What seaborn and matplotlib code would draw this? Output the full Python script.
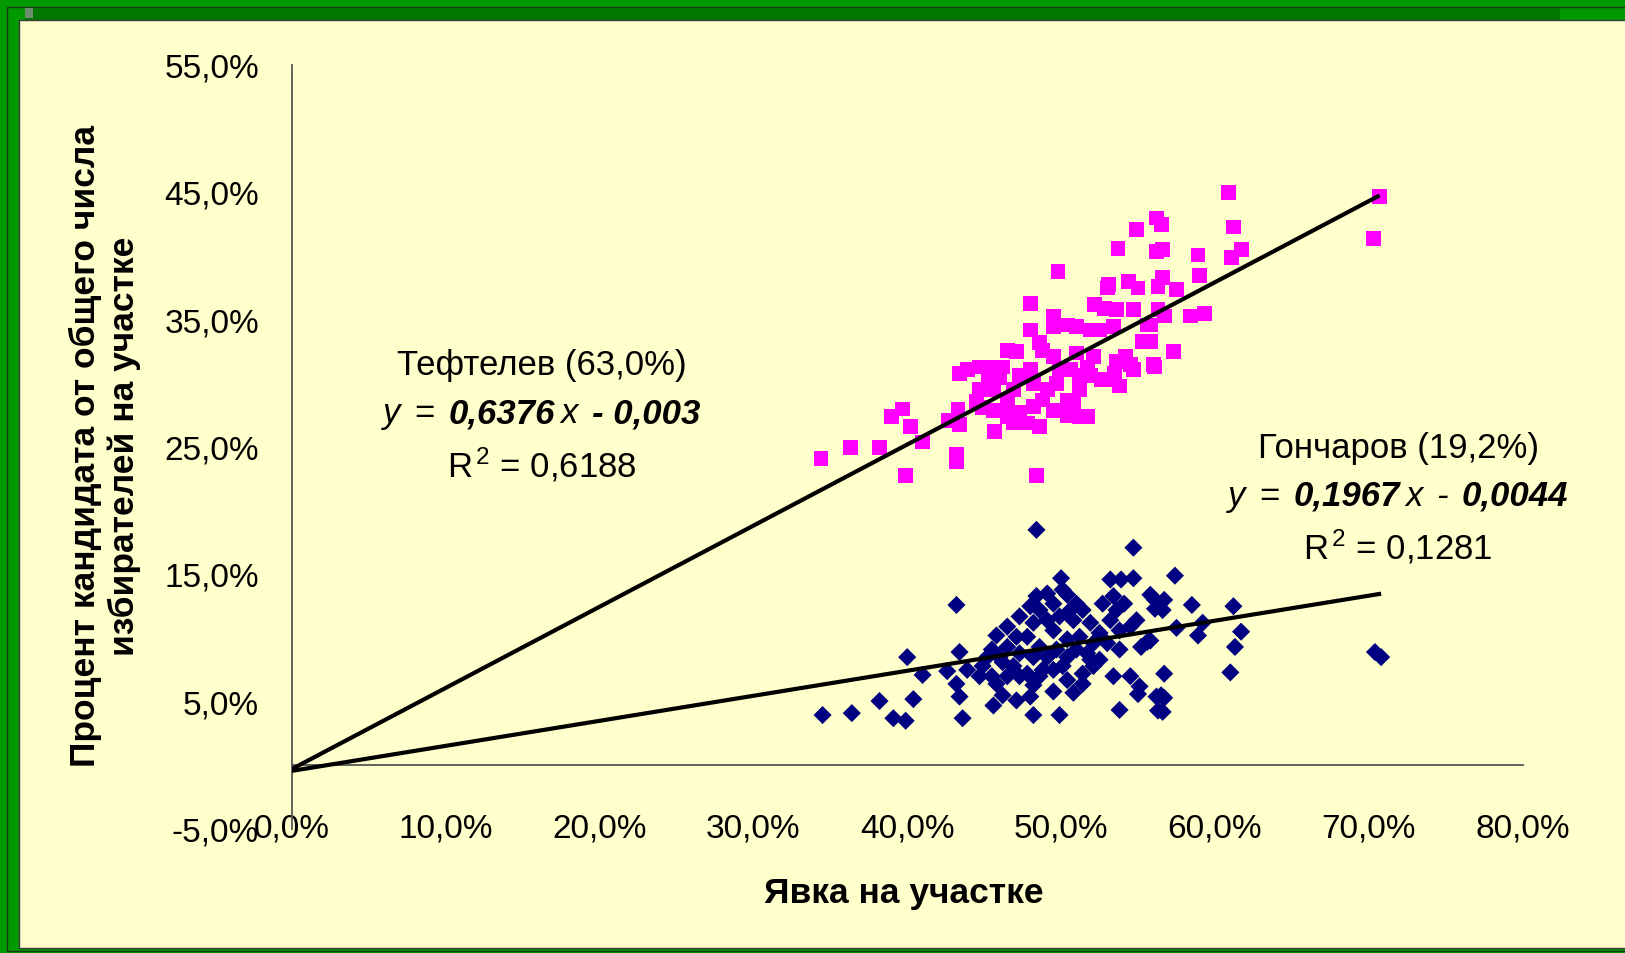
import numpy as np
import pandas as pd
import matplotlib
matplotlib.use("Agg")
import matplotlib.pyplot as plt
import seaborn as sns
from matplotlib.patches import Rectangle
from matplotlib.ticker import FixedLocator, FuncFormatter
from matplotlib.offsetbox import TextArea, HPacker, VPacker, AnnotationBbox

# ---------------- data (percent) ----------------
teftelev_turnout = [34.4, 36.3, 38.2, 39.0, 39.7, 40.2, 41.0, 39.9, 43.2, 43.2,
                    42.7, 43.3, 43.4, 43.4, 43.9, 44.7, 45.4, 46.2, 44.7, 45.6,
                    46.5, 47.1, 48.0, 48.0, 48.6, 49.5, 49.8, 49.5, 50.4, 51.0,
                    51.9, 52.5, 53.4, 52.2, 53.1, 53.7, 54.4, 54.9, 55.0, 54.7,
                    56.2, 56.2, 56.3, 55.6, 55.3, 56.0, 54.5, 53.6, 54.2, 52.6,
                    53.8, 51.7, 50.4, 51.2, 51.7, 51.2, 50.6, 49.7, 49.1, 48.2,
                    48.0, 47.3, 46.9, 46.5, 45.6, 46.5, 47.3, 48.2, 48.8, 49.5,
                    48.6, 47.8, 46.9, 45.7, 48.4, 50.8, 50.4, 49.9, 49.5, 48.8,
                    51.0, 52.1, 51.9, 53.2, 53.5, 54.7, 53.0, 52.8, 53.6, 51.2,
                    50.1,
                    60.9, 56.5, 61.2, 56.6, 58.9, 61.1, 61.7, 59.0, 56.6, 57.5,
                    56.3, 56.7, 58.4, 59.3, 55.8, 57.3, 56.1, 55.8, 70.7, 70.3,
                    44.5, 45.3, 46.0, 44.9]
teftelev_share = [24.1, 25.0, 25.0, 27.4, 28.0, 26.6, 25.4, 22.8, 23.9, 24.4,
                  27.1, 28.0, 26.8, 30.8, 31.1, 31.3, 31.3, 31.3, 29.5, 29.5,
                  32.6, 32.5, 36.3, 34.2, 33.2, 35.3, 38.8, 34.5, 34.6, 34.5,
                  34.2, 34.2, 34.5, 36.2, 37.8, 40.6, 38.0, 42.1, 37.5, 35.8,
                  43.0, 40.4, 37.6, 34.6, 33.3, 31.5, 31.5, 31.7, 32.1, 30.3,
                  29.8, 27.4, 27.5, 29.5, 31.3, 30.6, 31.1, 30.0, 29.5, 30.0,
                  31.1, 30.6, 29.5, 28.5, 27.9, 27.4, 27.7, 28.2, 28.7, 27.9,
                  26.6, 26.9, 26.9, 26.2, 22.8, 28.5, 28.7, 31.1, 32.1, 32.6,
                  32.4, 32.1, 30.6, 30.3, 30.8, 31.1, 37.5, 35.9, 35.8, 27.4,
                  27.9,
                  45.0, 42.5, 42.3, 40.5, 40.1, 39.9, 40.5, 38.5, 38.3, 37.4,
                  35.8, 35.3, 35.3, 35.5, 34.6, 32.5, 31.3, 33.3, 44.7, 41.4,
                  28.6, 30.2, 30.5, 28.1]

goncharov_turnout = [34.5, 36.4, 38.2, 39.1, 39.9, 40.4, 40.0, 41.0, 43.2, 42.6,
                     43.4, 43.2, 43.4, 43.6, 43.9, 44.7, 45.5, 45.6, 46.2, 45.5,
                     45.8, 46.5, 46.9, 47.3, 47.1, 47.3, 48.0, 48.4, 47.8, 48.2,
                     48.2, 48.0, 48.2, 48.4, 50.0, 49.5, 49.1, 49.5, 49.7, 48.8,
                     49.5, 49.9, 50.4, 51.0, 50.8, 50.4, 50.1, 50.8, 51.4, 51.7,
                     51.4, 52.1, 52.7, 53.2, 53.9, 54.7, 54.7, 53.4, 54.1, 53.2,
                     54.5, 53.0, 53.8, 55.6, 55.2, 52.5, 53.4, 54.5, 55.1, 55.0,
                     53.8, 55.8, 56.1, 56.3, 56.2,
                     57.4, 56.1, 56.7, 56.6, 58.5, 61.2, 57.5, 59.2, 58.9, 61.7,
                     61.3, 61.0, 56.7, 56.5, 56.7, 56.6, 70.4, 70.8, 55.8,
                     48.6, 49.1, 50.1, 50.6, 49.9, 48.2, 47.1, 46.5, 46.0, 47.3,
                     48.6, 49.1, 50.4, 51.0, 51.2, 51.9, 52.1, 52.5, 53.6, 53.8,
                     54.9, 46.5, 45.8, 47.8, 48.6, 49.5, 50.4, 51.4, 51.9, 45.2,
                     46.2, 44.9]
goncharov_share = [3.95, 4.1, 5.05, 3.7, 3.5, 5.2, 8.5, 7.1, 12.6, 7.4,
                   8.9, 6.4, 5.4, 3.7, 7.5, 7.0, 7.0, 4.7, 5.5, 9.1,
                   10.2, 10.9, 7.8, 7.0, 5.1, 11.7, 12.5, 13.3, 10.1, 8.5,
                   6.3, 5.4, 3.95, 18.5, 14.7, 12.7, 11.4, 10.6, 9.1, 7.5,
                   5.8, 3.95, 13.4, 12.7, 11.4, 9.9, 7.8, 5.7, 12.2, 8.8,
                   7.2, 7.8, 12.7, 14.6, 14.6, 14.7, 17.1, 13.3, 12.7, 11.4,
                   10.9, 9.6, 9.1, 9.7, 9.3, 8.3, 7.0, 7.0, 6.2, 5.6,
                   4.35, 13.4, 12.3, 4.3, 5.4,
                   14.9, 13.0, 13.0, 12.2, 12.6, 12.5, 10.8, 11.2, 10.2, 10.5,
                   9.3, 7.3, 7.2, 5.5, 5.3, 4.2, 8.9, 8.5, 9.8,
                   12.2, 13.5, 13.8, 12.2, 11.7, 11.2, 10.1, 9.3, 8.5, 8.8,
                   9.3, 8.5, 8.5, 9.1, 10.1, 11.2, 9.6, 10.4, 12.2, 10.6,
                   11.4, 7.0, 6.4, 7.2, 7.0, 7.5, 6.7, 6.4, 8.3, 8.5,
                   8.1, 7.8]

candidates = ["Тефтелев (63,0%)", "Гончаров (19,2%)"]
slopes = [0.6376, 0.1967]
intercepts = [-0.003, -0.0044]
slope_labels = ["0,6376", "0,1967"]
intercept_labels = ["- 0,003", "0,0044"]
r2_labels = ["0,6188", "0,1281"]

x_ticks = [0, 10, 20, 30, 40, 50, 60, 70, 80]
y_ticks = [-5, 5, 15, 25, 35, 45, 55]
x_title = "Явка на участке"
y_title = "Процент кандидата от общего числа\nизбирателей на участке"

# ---------------- style ----------------
sns.set_style("white")
plt.rcParams["font.family"] = ["Liberation Sans", "DejaVu Sans"]
plt.rcParams["text.color"] = "black"
plt.rcParams["axes.labelcolor"] = "black"
plt.rcParams["mathtext.fontset"] = "custom"
plt.rcParams["mathtext.rm"] = "Liberation Sans"
plt.rcParams["mathtext.it"] = "Liberation Sans:italic"

W, H = 1625, 953
GREEN = "#009A00"
DARKGREEN = "#007800"
YELLOW = "#FFFFCC"

fig = plt.figure(figsize=(W / 100, H / 100 + 0.004), dpi=100, facecolor=GREEN)


def frect(x0, y0, x1, y1, **kw):
    # pixel coords measured from top-left
    r = Rectangle((x0 / W, 1 - y1 / H), (x1 - x0) / W, (y1 - y0) / H,
                  transform=fig.transFigure, zorder=-10, **kw)
    fig.patches.append(r)


frect(7, 7, W + 5, H - 2, facecolor="none", edgecolor="#1a3a1a", lw=1.0)
frect(25, 8, 1560, 20, facecolor=DARKGREEN, edgecolor="none")
frect(25, 8, 33, 18, facecolor="#6e8e6e", edgecolor="none")
frect(19, 20, W + 5, 948, facecolor=YELLOW, edgecolor="#3a3a3a", lw=1.0)

ax = fig.add_axes([291.7 / W, 1 - 829 / H, (1522.7 - 291.7) / W, (829 - 65.7) / H])
ax.patch.set_visible(False)
ax.set_zorder(1)

df_t = pd.DataFrame({"turnout": teftelev_turnout, "share": teftelev_share})
df_g = pd.DataFrame({"turnout": goncharov_turnout, "share": goncharov_share})

sns.scatterplot(data=df_t, x="turnout", y="share", marker="s", s=115,
                color="#FF00FF", edgecolor="none", linewidth=0, ax=ax, zorder=3)
sns.scatterplot(data=df_g, x="turnout", y="share", marker="D", s=85,
                color="#000080", edgecolor="none", linewidth=0, ax=ax, zorder=3)

for df, k, b in [(df_t, slopes[0], intercepts[0]), (df_g, slopes[1], intercepts[1])]:
    xs = np.array([0.0, df["turnout"].max()])
    ax.plot(xs, k * xs + b * 100, color="black", lw=3.0, zorder=4,
            solid_capstyle="butt")

ax.set_xlim(0, 80)
ax.set_ylim(-5, 55)
ax.xaxis.set_major_locator(FixedLocator(x_ticks))
ax.yaxis.set_major_locator(FixedLocator(y_ticks))
fmt = FuncFormatter(lambda v, p: f"{v:.1f}%".replace(".", ","))
ax.xaxis.set_major_formatter(fmt)
ax.yaxis.set_major_formatter(fmt)

for s in ["top", "right"]:
    ax.spines[s].set_visible(False)
ax.spines["bottom"].set_position(("data", 0))
for s in ["left", "bottom"]:
    ax.spines[s].set_color("#555555")
    ax.spines[s].set_linewidth(1.3)

ax.tick_params(axis="both", direction="out", length=9.5, width=1.2,
               color="#555555", labelsize=24, labelcolor="black")
ax.tick_params(axis="x", pad=25)
ax.tick_params(axis="y", pad=14)

ax.set_xlabel(x_title, fontsize=25.5, fontweight="bold", va="center", color="black")
ax.xaxis.set_label_coords(0.497, -0.084)
ax.set_ylabel(y_title, fontsize=25.5, fontweight="bold", va="center", color="black",
              ha="center", multialignment="center", linespacing=1.22)
ax.yaxis.set_label_coords(-0.152, 0.502)

# ---------------- trend annotations ----------------
FS = 25


def tp(**extra):
    d = dict(family="Liberation Sans", size=FS, color="black")
    d.update(extra)
    return d


def block(i, bold_minus):
    l1 = TextArea(candidates[i], textprops=tp())
    coef = HPacker(children=[TextArea(slope_labels[i], textprops=tp(style="italic", weight="bold")),
                             TextArea("x", textprops=tp(style="italic"))],
                   align="baseline", pad=0, sep=4)
    if bold_minus:
        tail = [TextArea(intercept_labels[i], textprops=tp(style="italic", weight="bold"))]
    else:
        tail = [TextArea("-", textprops=tp(style="italic")),
                TextArea(intercept_labels[i], textprops=tp(style="italic", weight="bold"))]
    l2 = HPacker(children=[TextArea("y", textprops=tp(style="italic")),
                           TextArea("=", textprops=tp()), coef] + tail,
                 align="baseline", pad=0, sep=10)
    l3 = TextArea("R$^{\\,2}$ = " + r2_labels[i], textprops=tp())
    return VPacker(children=[l1, l2, l3], align="center", pad=0, sep=11)


positions = [(16.26, 27.45), (71.9, 20.95)]
for i in range(2):
    ab = AnnotationBbox(block(i, bold_minus=(i == 0)), positions[i], xycoords="data",
                        box_alignment=(0.5, 0.5), frameon=False, pad=0,
                        annotation_clip=False)
    ax.add_artist(ab)

fig.savefig("out.png", dpi=100, facecolor=fig.get_facecolor())
